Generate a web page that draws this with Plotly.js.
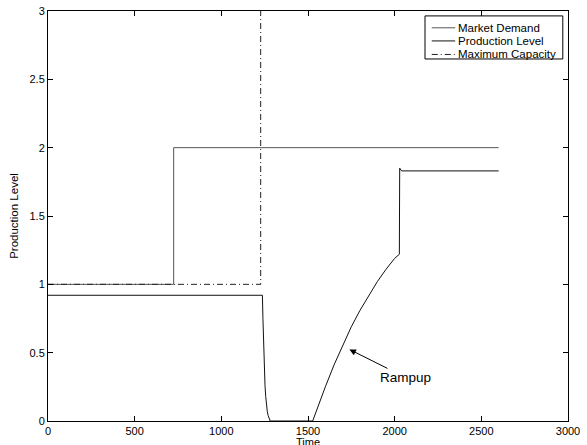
<!DOCTYPE html>
<html>
<head>
<meta charset="utf-8">
<script src="https://cdn.plot.ly/plotly-3.0.1.min.js"></script>
<style>html,body{margin:0;padding:0;background:#fff;}#chart{width:587px;height:445px;}</style>
</head>
<body>
<div id="chart"></div>
<script>
// Market Demand
var demandX = [0, 725, 725, 2600];
var demandY = [1, 1, 2, 2];
// Production Level
var prodX = [0, 1237, 1240, 1243, 1246, 1249, 1252, 1256, 1260, 1265, 1270, 1276, 1282,
             1527, 1560, 1600, 1650, 1700, 1750, 1800, 1850, 1900, 1950, 2000, 2027,
             2029, 2040, 2600];
var prodY = [0.92, 0.92, 0.75, 0.58, 0.45, 0.34, 0.26, 0.18, 0.12, 0.07, 0.04, 0.015, 0,
             0, 0.12, 0.25, 0.41, 0.55, 0.69, 0.81, 0.92, 1.02, 1.11, 1.19, 1.22,
             1.85, 1.83, 1.83];
// Maximum Capacity (rises above the top of the axes after the step)
var capX = [0, 1227, 1227, 2600];
var capY = [1, 1, 3.3, 3.3];

var seriesNames = ["Market Demand", "Production Level", "Maximum Capacity"];
var seriesColors = ["#555555", "#111111", "#222222"];
var seriesDash = ["solid", "solid", "6px,3px,1px,3px"];
var xTicks = [0, 500, 1000, 1500, 2000, 2500, 3000];
var yTicks = [0, 0.5, 1, 1.5, 2, 2.5, 3];
var yTickText = ["0", "0.5", "1", "1.5", "2", "2.5", "3"];
var xTitle = "Time";
var yTitle = "Production Level";
var annoText = "Rampup";
var annoPoint = [1739, 0.524];

var font = "'Liberation Sans', Arial, Helvetica, sans-serif";

var traces = [
  {x: demandX, y: demandY, name: seriesNames[0], mode: "lines",
   line: {color: seriesColors[0], width: 1, dash: seriesDash[0]}},
  {x: prodX, y: prodY, name: seriesNames[1], mode: "lines",
   line: {color: seriesColors[1], width: 1, dash: seriesDash[1]}},
  {x: capX, y: capY, name: seriesNames[2], mode: "lines",
   line: {color: seriesColors[2], width: 1, dash: seriesDash[2]}}
];

var axisCommon = {
  showgrid: false, zeroline: false, showline: true, linecolor: "#000", linewidth: 1,
  mirror: "allticks", ticks: "inside", ticklen: 5, tickwidth: 1, tickcolor: "#000",
  tickfont: {family: font, size: 11, color: "#000"}
};

// Custom compact legend box (MATLAB style)
var legBox = {x0: 0.725, x1: 0.990, y0: 0.883, y1: 0.988};
var legRows = [0.959, 0.927, 0.894];
var legLineX = [0.738, 0.783];
var legTextX = 0.785;

var shapes = [{
  type: "rect", xref: "paper", yref: "paper",
  x0: legBox.x0, x1: legBox.x1, y0: legBox.y0, y1: legBox.y1,
  line: {color: "#000", width: 1}, fillcolor: "#fff", layer: "above"
}];
var annotations = [];
seriesNames.forEach(function (nm, i) {
  shapes.push({
    type: "line", xref: "paper", yref: "paper",
    x0: legLineX[0], x1: legLineX[1], y0: legRows[i], y1: legRows[i],
    line: {color: seriesColors[i], width: 1, dash: seriesDash[i]}, layer: "above"
  });
  annotations.push({
    xref: "paper", yref: "paper", x: legTextX, y: legRows[i],
    xanchor: "left", yanchor: "middle", showarrow: false, text: nm,
    font: {family: font, size: 11.5, color: "#000"}
  });
});
annotations.push({
  x: annoPoint[0], y: annoPoint[1], xref: "x", yref: "y",
  text: annoText, showarrow: true, arrowhead: 2, arrowsize: 1.3, arrowwidth: 1,
  arrowcolor: "#000", ax: 56, ay: 28,
  font: {family: font, size: 13.5, color: "#000"}
});
// x axis title, placed just below the tick labels as in the reference
annotations.push({
  xref: "paper", yref: "paper", x: 0.5, y: -0.051, xanchor: "center", yanchor: "middle",
  showarrow: false, text: xTitle, font: {family: font, size: 11, color: "#000"}
});

var layout = {
  width: 587, height: 445,
  margin: {l: 48, r: 19, t: 11, b: 24},
  paper_bgcolor: "#fff", plot_bgcolor: "#fff",
  showlegend: false,
  xaxis: Object.assign({}, axisCommon, {
    range: [0, 3000], tickvals: xTicks, ticktext: xTicks.map(String),
    automargin: false
  }),
  yaxis: Object.assign({}, axisCommon, {
    range: [0, 3], tickvals: yTicks, ticktext: yTickText,
    title: {text: yTitle, font: {family: font, size: 11.5, color: "#000"}, standoff: 8},
    automargin: false
  }),
  shapes: shapes,
  annotations: annotations
};

Plotly.newPlot("chart", traces, layout, {staticPlot: true, displayModeBar: false});
</script>
</body>
</html>
